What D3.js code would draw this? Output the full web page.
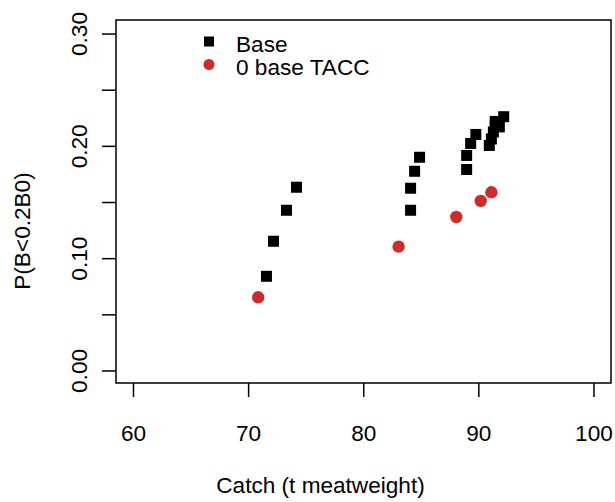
<!DOCTYPE html>
<html>
<head>
<meta charset="utf-8">
<script src="https://cdn.jsdelivr.net/npm/d3@7/dist/d3.min.js"></script>
<style>
  html, body { margin: 0; padding: 0; background: #fff; }
  svg { display: block; font-family: "Liberation Sans", Arial, Helvetica, sans-serif; }
</style>
</head>
<body>
<svg id="chart" width="615" height="502"></svg>
<script>
// Data
const baseCatch = [71.55, 72.16, 73.29, 74.16,
                   84.07, 84.07, 84.42, 84.85,
                   88.94, 88.94, 89.29, 89.74,
                   90.91, 91.09, 91.26, 91.43, 91.42, 91.78, 92.16];
const baseProb  = [0.0843, 0.1155, 0.1431, 0.1636,
                   0.1431, 0.1627, 0.1778, 0.1903,
                   0.1794, 0.1919, 0.2026, 0.2106,
                   0.2008, 0.2066, 0.2128, 0.2182, 0.2222, 0.2173, 0.2264];
const taccCatch = [70.83, 83.03, 88.04, 90.16, 91.09];
const taccProb  = [0.0656, 0.1107, 0.1371, 0.1514, 0.1591];

const xTicks = [60, 70, 80, 90, 100];
const yTicks = [0, 0.05, 0.10, 0.15, 0.20, 0.25, 0.30];
const yLabelTicks = [0, 0.10, 0.20, 0.30];
const seriesNames = ["Base", "0 base TACC"];
const seriesColors = ["#000000", "#d12a2a"];
const xTitle = "Catch (t meatweight)";
const yTitle = "P(B<0.2B0)";

const svg = d3.select("#chart");
const box = {left: 116, right: 611, top: 20, bottom: 383};
const x = d3.scaleLinear().domain([58.48, 101.48]).range([box.left, box.right]);
const y = d3.scaleLinear().domain([-0.0107, 0.3125]).range([box.bottom, box.top]);
const fs = 22.6;

// Plot frame
svg.append("rect")
  .attr("x", box.left).attr("y", box.top)
  .attr("width", box.right - box.left).attr("height", box.bottom - box.top)
  .attr("fill", "none").attr("stroke", "#000").attr("stroke-width", 1.5);

// X axis (detached below the box, like R)
const xAxis = svg.append("g").attr("transform", `translate(0,${box.bottom})`);
xAxis.selectAll("line.tick").data(xTicks).enter().append("line")
  .attr("class", "tick")
  .attr("x1", d => x(d)).attr("x2", d => x(d))
  .attr("y1", 0).attr("y2", 14)
  .attr("stroke", "#000").attr("stroke-width", 1.5);
xAxis.selectAll("text").data(xTicks).enter().append("text")
  .attr("x", d => x(d)).attr("y", 58)
  .attr("text-anchor", "middle").attr("font-size", fs).attr("fill", "#000")
  .text(d => d);

// Y axis
const yAxis = svg.append("g").attr("transform", `translate(${box.left},0)`);
yAxis.selectAll("line.tick").data(yTicks).enter().append("line")
  .attr("class", "tick")
  .attr("x1", -14).attr("x2", 0)
  .attr("y1", d => y(d)).attr("y2", d => y(d))
  .attr("stroke", "#000").attr("stroke-width", 1.5);
yAxis.selectAll("text").data(yLabelTicks).enter().append("text")
  .attr("transform", d => `translate(${86.5 - box.left},${y(d)}) rotate(-90)`)
  .attr("text-anchor", "middle").attr("font-size", fs).attr("fill", "#000")
  .text(d => d3.format(".2f")(d));

// Axis titles
svg.append("text")
  .attr("x", 320.5).attr("y", 493)
  .attr("text-anchor", "middle").attr("font-size", fs).attr("fill", "#000")
  .text(xTitle);
svg.append("text")
  .attr("transform", `translate(29.5,231) rotate(-90)`)
  .attr("text-anchor", "middle").attr("font-size", fs).attr("fill", "#000")
  .text(yTitle);

// Points
const sq = 11;
svg.append("g").selectAll("rect").data(d3.zip(baseCatch, baseProb)).enter().append("rect")
  .attr("x", d => x(d[0]) - sq / 2).attr("y", d => y(d[1]) - sq / 2)
  .attr("width", sq).attr("height", sq)
  .attr("fill", seriesColors[0]);
svg.append("g").selectAll("circle").data(d3.zip(taccCatch, taccProb)).enter().append("circle")
  .attr("cx", d => x(d[0])).attr("cy", d => y(d[1]))
  .attr("r", 6.2)
  .attr("fill", seriesColors[1]);

// Legend
const leg = svg.append("g");
leg.append("rect").attr("x", 209 - 5).attr("y", 41.5 - 5).attr("width", 10).attr("height", 10)
  .attr("fill", seriesColors[0]);
leg.append("circle").attr("cx", 209).attr("cy", 64.5).attr("r", 5.5)
  .attr("fill", seriesColors[1]);
leg.selectAll("text").data(seriesNames).enter().append("text")
  .attr("x", 236).attr("y", (d, i) => 52 + i * 23)
  .attr("font-size", fs).attr("fill", "#000")
  .text(d => d);
</script>
</body>
</html>
